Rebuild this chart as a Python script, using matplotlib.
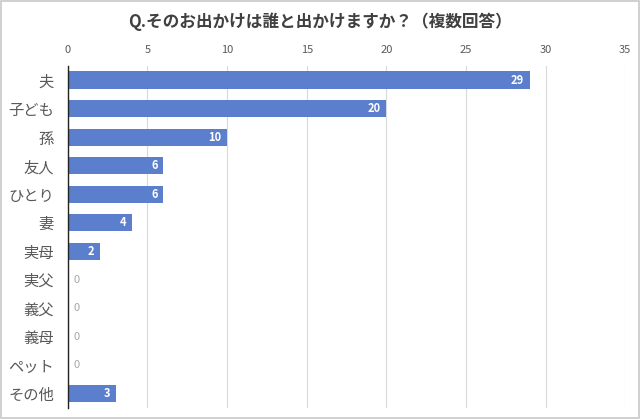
import numpy as np
import matplotlib.pyplot as plt

plt.rcParams['font.family'] = ['Noto Sans CJK JP', 'DejaVu Sans']

categories = ['夫', '子ども', '孫', '友人', 'ひとり', '妻', '実母', '実父', '義父', '義母', 'ペット', 'その他']
values = [29, 20, 10, 6, 6, 4, 2, 0, 0, 0, 0, 3]
xticks = [0, 5, 10, 15, 20, 25, 30, 35]

bar_color = '#5B7FCC'
text_gray = '#595959'

fig = plt.figure(figsize=(6.4, 4.19), dpi=100)
ax = fig.add_axes([0.106, 0.026, 0.871, 0.817])

y = np.arange(len(categories))
ax.barh(y, values, height=0.6, color=bar_color, zorder=3)

for yi, v in zip(y, values):
    if v > 0:
        ax.text(v - 0.35, yi, str(v), ha='right', va='center', color='white',
                fontsize=8, fontweight='bold', zorder=4)
    else:
        ax.text(0.35, yi, str(v), ha='left', va='center', color='#a6a6a6',
                fontsize=8, zorder=4)

ax.set_xlim(0, 35)
ax.set_ylim(len(categories) - 0.5, -0.5)
ax.set_xticks(xticks)
ax.set_yticks(y)
ax.set_yticklabels(categories)
ax.xaxis.tick_top()
ax.tick_params(axis='x', length=0, pad=8, labelsize=8, labelcolor=text_gray)
ax.tick_params(axis='y', length=0, pad=10, labelsize=11, labelcolor=text_gray)
ax.grid(axis='x', color='#d9d9d9', linewidth=0.8, zorder=0)

for s in ['top', 'right', 'bottom']:
    ax.spines[s].set_visible(False)
ax.spines['left'].set_color('#222222')
ax.spines['left'].set_linewidth(1.0)
ax.spines['left'].set_zorder(5)

fig.text(0.5, 0.948, 'Q.そのお出かけは誰と出かけますか？（複数回答）', ha='center', va='center',
         fontsize=12, fontweight='bold', color='#404040')

border = plt.Rectangle((0.002, 0.002), 0.996, 0.996, transform=fig.transFigure,
                       fill=False, edgecolor='#c8c8c8', linewidth=1.2)
fig.patches.append(border)

fig.savefig('out.png', dpi=100)
